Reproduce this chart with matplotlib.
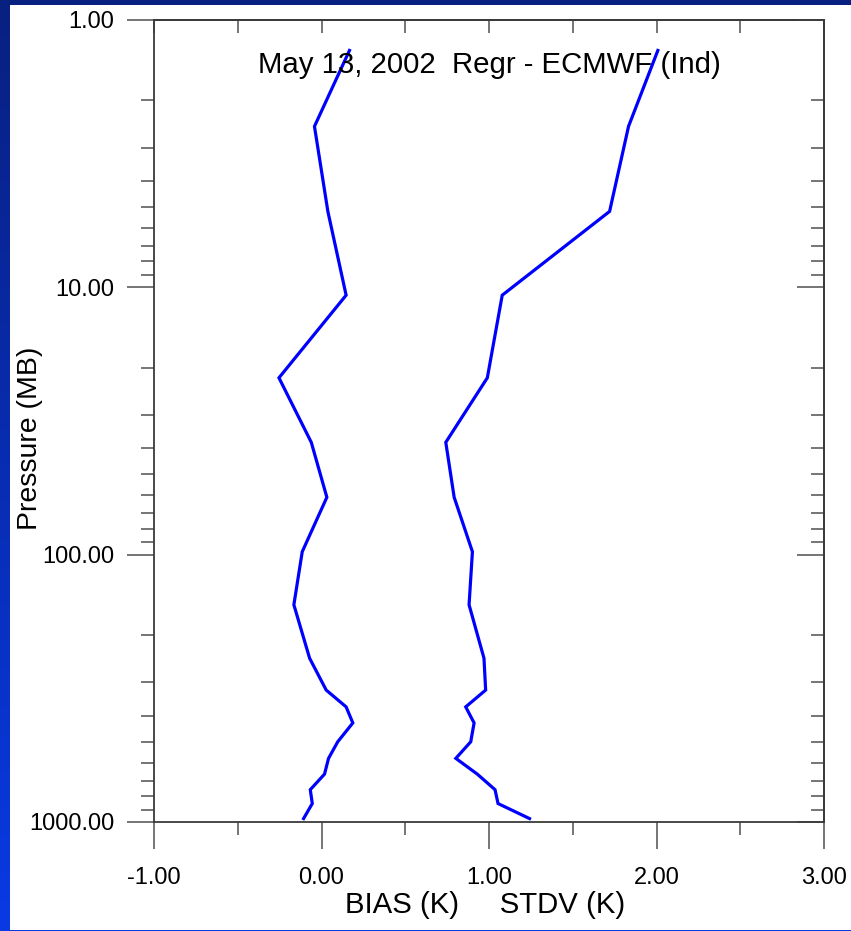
import numpy as np
import matplotlib
matplotlib.use("Agg")
import matplotlib.pyplot as plt
from matplotlib.patches import Rectangle
from matplotlib.ticker import FixedLocator, FixedFormatter, NullFormatter, LogLocator, MultipleLocator

plt.rcParams['font.family'] = ['Liberation Sans', 'DejaVu Sans']

# Profile levels (mb) and statistics of regression retrieval minus ECMWF
pressure = [1.3, 2.5, 5.2, 10.7, 21.8, 38, 61, 97.5, 154, 244, 321, 371,
            426, 501, 578, 662, 757, 853, 971]
bias = [0.167, -0.042, 0.038, 0.147, -0.254, -0.061, 0.032, -0.115, -0.165,
        -0.071, 0.028, 0.147, 0.187, 0.097, 0.042, 0.018, -0.067, -0.055, -0.107]
stdv = [2.008, 1.833, 1.720, 1.079, 0.990, 0.742, 0.792, 0.901, 0.881,
        0.970, 0.980, 0.861, 0.911, 0.891, 0.802, 0.930, 1.036, 1.054, 1.242]

x_ticks = [-1, 0, 1, 2, 3]
x_ticklabels = ["-1.00", "0.00", "1.00", "2.00", "3.00"]
y_ticks = [1, 10, 100, 1000]
y_ticklabels = ["1.00", "10.00", "100.00", "1000.00"]

title = "May 13, 2002  Regr - ECMWF (Ind)"
xlabel = "BIAS (K)     STDV (K)"
ylabel = "Pressure (MB)"

W, H = 851, 931
fig = plt.figure(figsize=(W / 100, H / 100), dpi=100)

# slide-style backdrop: vertical blue gradient with a white panel
bg = fig.add_axes([0, 0, 1, 1])
bg.set_axis_off()
top_c = np.array([0x08, 0x20, 0x80]) / 255
bot_c = np.array([0x08, 0x3a, 0xe4]) / 255
t = np.linspace(0, 1, 256)[:, None]
grad = top_c[None, :] * (1 - t) + bot_c[None, :] * t
bg.imshow(grad[:, None, :], aspect='auto', extent=[0, 1, 0, 1], origin='upper')
bg.add_patch(Rectangle((10 / W, 1 - 930 / H), 1 - 10 / W, (930 - 5) / H,
                       facecolor='white', edgecolor='none', transform=bg.transAxes))
bg.set_xlim(0, 1)
bg.set_ylim(0, 1)

left, right, top, bottom = 154, 824, 20, 822
ax = fig.add_axes([left / W, 1 - bottom / H, (right - left) / W, (bottom - top) / H])
ax.set_facecolor('none')

ax.plot(bias, pressure, color='#0000ff', lw=2.3, solid_joinstyle='miter')
ax.plot(stdv, pressure, color='#0000ff', lw=2.3, solid_joinstyle='miter')

ax.set_yscale('log')
ax.set_ylim(1000, 1)
ax.set_xlim(-1, 3)

spine_c = '#3a3a3a'
tick_c = '#6a6a6a'
for s in ax.spines.values():
    s.set_color(spine_c)
    s.set_linewidth(1.3)

# bottom / left: outward ticks with labels
ax.xaxis.set_major_locator(FixedLocator(x_ticks))
ax.xaxis.set_major_formatter(FixedFormatter(x_ticklabels))
ax.xaxis.set_minor_locator(MultipleLocator(0.5))
ax.yaxis.set_major_locator(FixedLocator(y_ticks))
ax.yaxis.set_major_formatter(FixedFormatter(y_ticklabels))
ax.yaxis.set_minor_locator(LogLocator(base=10, subs=np.arange(2, 10), numticks=20))
ax.yaxis.set_minor_formatter(NullFormatter())

ax.tick_params(axis='both', which='major', direction='out', length=19.5, width=1.3,
               color=tick_c, labelsize=17, pad=9)
ax.tick_params(axis='both', which='minor', direction='out', length=9.5, width=1.3,
               color=tick_c)
ax.tick_params(axis='x', which='major', pad=13)
ax.tick_params(top=False, right=False, which='both')

# top: inward ticks at every half unit
secx = ax.secondary_xaxis('top')
secx.xaxis.set_major_locator(MultipleLocator(0.5))
secx.xaxis.set_major_formatter(NullFormatter())
secx.tick_params(direction='in', length=9.5, width=1.3, color=tick_c)
secx.spines['top'].set_color(spine_c)
secx.spines['top'].set_linewidth(1.3)

# right: inward log ticks
secy = ax.secondary_yaxis('right')
secy.yaxis.set_major_locator(FixedLocator(y_ticks))
secy.yaxis.set_major_formatter(NullFormatter())
secy.yaxis.set_minor_locator(LogLocator(base=10, subs=np.arange(2, 10), numticks=20))
secy.yaxis.set_minor_formatter(NullFormatter())
secy.tick_params(which='major', direction='in', length=19.5, width=1.3, color=tick_c)
secy.tick_params(which='minor', direction='in', length=9.5, width=1.3, color=tick_c)
secy.spines['right'].set_color(spine_c)
secy.spines['right'].set_linewidth(1.3)

ax.text(0.5, 1 - (65 - top) / (bottom - top), title, transform=ax.transAxes,
        ha='center', va='center', fontsize=21.2, color='black')

fig.text(485 / W, 1 - 905 / H, xlabel, ha='center', va='center', fontsize=21.2)
fig.text(30 / W, 1 - 438 / H, ylabel, ha='center', va='center', rotation=90, fontsize=20.5)

fig.savefig('out.png', dpi=100)
